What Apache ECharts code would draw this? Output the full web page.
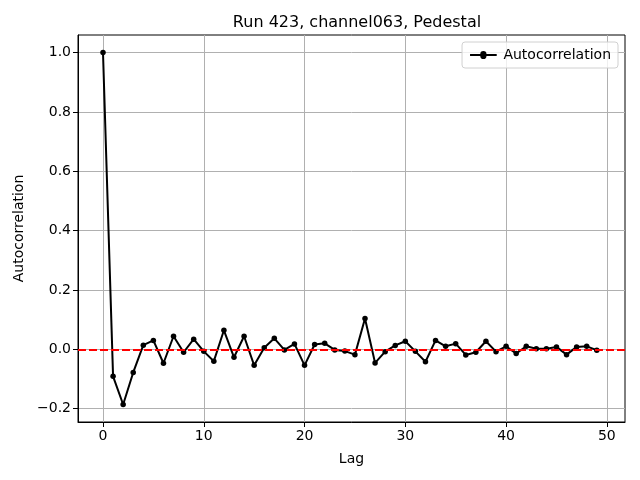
<!DOCTYPE html>
<html><head><meta charset="utf-8">
<script src="https://cdn.jsdelivr.net/npm/echarts@6/dist/echarts.min.js"></script>
<style>html,body{margin:0;padding:0;background:#fff}#c{width:640px;height:480px}</style>
</head><body><div id="c"></div>
<script>
const lags = [0,1,2,3,4,5,6,7,8,9,10,11,12,13,14,15,16,17,18,19,20,21,22,23,24,25,26,27,28,29,30,31,32,33,34,35,36,37,38,39,40,41,42,43,44,45,46,47,48,49];
const autocorr = [1.0,-0.091,-0.186,-0.078,0.014,0.030,-0.047,0.044,-0.010,0.034,-0.007,-0.040,0.064,-0.027,0.044,-0.054,0.005,0.037,-0.002,0.018,-0.054,0.016,0.020,-0.002,-0.006,-0.018,0.104,-0.046,-0.008,0.013,0.027,-0.007,-0.042,0.030,0.010,0.019,-0.019,-0.010,0.027,-0.008,0.010,-0.014,0.010,0.002,0.002,0.008,-0.018,0.008,0.010,-0.003];
const xTicks = [0,10,20,30,40,50];
const yTicks = [-0.2,0,0.2,0.4,0.6,0.8,1.0];
const titleText = 'Run 423, channel063, Pedestal';

const font = 'DejaVu Sans';
const chart = echarts.init(document.getElementById('c'), null, {renderer:'canvas'});
chart.setOption({
  animation:false,
  title:{text:titleText,left:352,top:10,textAlign:'center',textStyle:{fontFamily:font,fontSize:16,fontWeight:'normal',color:'#000'}},
  grid:{left:78,right:15,top:35,bottom:58,show:true,borderColor:'#000',borderWidth:1,containLabel:false},
  legend:{right:22,top:42,itemWidth:30,itemHeight:8,itemGap:8,orient:'vertical',padding:[6,7,6,8],
    borderColor:'#d0d0d0',borderWidth:1,borderRadius:3,backgroundColor:'rgba(255,255,255,0.8)',
    textStyle:{fontFamily:font,fontSize:14,color:'#000'},
    data:[{name:'Autocorrelation',icon:'path://M0,3L11.5,3A3,3 0 0 1 18.5,3L30,3L30,5L18.5,5A3,3 0 0 1 11.5,5L0,5Z',itemStyle:{color:'#000'}}]},
  xAxis:{type:'value',min:-2.48,max:51.8,name:'Lag',nameLocation:'middle',nameGap:30,
    nameTextStyle:{fontFamily:font,fontSize:14,color:'#000'},
    axisLine:{show:true,onZero:false,lineStyle:{color:'#000',width:1}},
    axisTick:{show:true,length:5,customValues:xTicks,lineStyle:{color:'#000'}},
    axisLabel:{customValues:xTicks,fontFamily:font,fontSize:14,color:'#000',margin:7},
    splitLine:{show:true,lineStyle:{color:'#b0b0b0',width:1}}},
  yAxis:{type:'value',min:-0.245,max:1.059,name:'Autocorrelation',nameLocation:'middle',nameGap:51,nameRotate:90,
    nameTextStyle:{fontFamily:font,fontSize:14,color:'#000'},
    axisLine:{show:true,onZero:false,lineStyle:{color:'#000',width:1}},
    axisTick:{show:true,length:5,customValues:yTicks,lineStyle:{color:'#000'}},
    axisLabel:{customValues:yTicks,fontFamily:font,fontSize:14,color:'#000',margin:7,
      formatter:v=>(v<0?'\u2212':'')+Math.abs(v).toFixed(1)},
    splitLine:{show:true,lineStyle:{color:'#b0b0b0',width:1}}},
  series:[{name:'Autocorrelation',type:'line',data:lags.map((l,i)=>[l,autocorr[i]]),
    symbol:'circle',symbolSize:5.5,showSymbol:true,
    lineStyle:{color:'#000',width:2},itemStyle:{color:'#000'},
    markLine:{silent:true,symbol:'none',label:{show:false},
      lineStyle:{color:'#ff0000',type:[8,3],width:2,opacity:1},data:[{yAxis:0}]}}]
});
</script></body></html>
